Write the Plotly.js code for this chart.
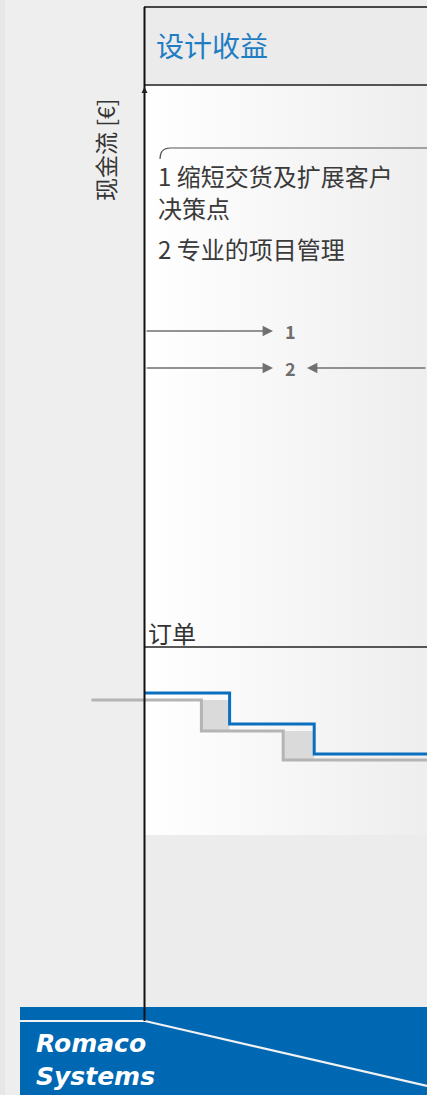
<!DOCTYPE html>
<html>
<head>
<meta charset="utf-8">
<script src="https://cdn.plot.ly/plotly-3.0.1.min.js"></script>
<style>html,body{margin:0;padding:0;background:#ececec;}#chart{width:427px;height:1095px;}</style>
</head>
<body>
<div id="chart"></div>
<script>
// ---- data (schematic: time units vs. cash-flow units) ----
const titleText = "设计收益";
const yLabel = "现金流 [€]";
const noteLines = ["1 缩短交货及扩展客户", "决策点", "2 专业的项目管理"];
const markerLabels = ["1", "2"];
const orderLabel = "订单";
const logoLines = ["Romaco", "Systems"];

const projectedTime = [-1.9, 2, 4.9, 10];
const projectedCash = [-0.7, -3.8, -6.7, -6.7];
const designedTime  = [0, 3, 6, 10];
const designedCash  = [0, -3.1, -6.1, -6.1];

// ---- helpers (layout only) ----
const W = 427, H = 1095;
const px = p => p / W;
const py = p => 1 - p / H;
const X0 = 145, PXU = 28.2, Y0 = 693, PYU = 10;
const xr = [-X0 / PXU, (W - X0) / PXU];
const yr = [(Y0 - H) / PYU, Y0 / PYU];
const dx = p => (p - X0) / PXU;
const dy = p => (Y0 - p) / PYU;

const traces = [];
// gradient panel
traces.push({
  x: [dx(145), dx(427), dx(427), dx(145), dx(145)],
  y: [dy(86), dy(86), dy(835), dy(835), dy(86)],
  mode: 'lines', fill: 'toself', line: {width: 0},
  fillgradient: {type: 'horizontal', colorscale: [[0, '#ffffff'], [1, '#eeeeee']]},
  hoverinfo: 'skip', showlegend: false
});
// gap boxes between projected and designed steps
for (let i = 1; i < projectedTime.length - 1; i++) {
  const a = projectedTime[i], b = designedTime[i];
  const top = projectedCash[i - 1], bot = projectedCash[i];
  traces.push({
    x: [a, b, b, a, a], y: [top, top, bot, bot, top],
    mode: 'lines', fill: 'toself', fillcolor: '#dadada', line: {width: 0},
    hoverinfo: 'skip', showlegend: false
  });
}
traces.push({
  x: projectedTime, y: projectedCash, mode: 'lines',
  line: {shape: 'hv', color: '#b4b4b4', width: 3}, hoverinfo: 'skip', showlegend: false
});
traces.push({
  x: designedTime, y: designedCash, mode: 'lines',
  line: {shape: 'hv', color: '#0a6fbe', width: 3}, hoverinfo: 'skip', showlegend: false
});

const shapes = [
  {type: 'rect', xref: 'paper', yref: 'paper', x0: 0, x1: px(5), y0: 0, y1: 1, fillcolor: '#e7e7e7', line: {width: 0}, layer: 'below'},
  {type: 'rect', xref: 'paper', yref: 'paper', x0: px(5), x1: px(144), y0: 0, y1: 1, fillcolor: '#eeeeee', line: {width: 0}, layer: 'below'},
  {type: 'rect', xref: 'paper', yref: 'paper', x0: px(144), x1: 1, y0: py(85), y1: py(7), fillcolor: '#ebebeb', line: {width: 0}, layer: 'below'},
  {type: 'line', xref: 'paper', yref: 'paper', x0: px(144), x1: 1, y0: py(7), y1: py(7), line: {color: '#111', width: 1.6}},
  {type: 'line', xref: 'paper', yref: 'paper', x0: px(144), x1: 1, y0: py(85), y1: py(85), line: {color: '#222', width: 1.6}},
  {type: 'line', xref: 'paper', yref: 'paper', x0: px(145), x1: 1, y0: py(647), y1: py(647), line: {color: '#222', width: 1.5}},
  {type: 'path', xref: 'paper', yref: 'paper',
   path: `M ${px(160)} ${py(159)} Q ${px(160)} ${py(148)} ${px(170)} ${py(148)} L ${px(427)} ${py(148)}`,
   line: {color: '#555', width: 1.2}},
  {type: 'rect', xref: 'paper', yref: 'paper', x0: px(20), x1: 1, y0: 0, y1: py(1007), fillcolor: '#0067b3', line: {width: 0}},
  {type: 'path', xref: 'paper', yref: 'paper',
   path: `M ${px(20)} ${py(1021)} L ${px(145)} ${py(1021)} L ${px(427)} ${py(1086)}`,
   line: {color: '#f2f2f2', width: 2.2}},
  {type: 'line', xref: 'paper', yref: 'paper', x0: px(144.5), x1: px(144.5), y0: py(7), y1: py(1021), line: {color: '#111', width: 2}}
];

const CJK = '"Noto Sans CJK SC", sans-serif';
const txt = (t, x, y, size, color, extra) => Object.assign({
  text: t, xref: 'paper', yref: 'paper', x: px(x), y: py(y), xanchor: 'left', yanchor: 'middle',
  showarrow: false, font: {family: CJK, size: size, color: color}
}, extra || {});

const arrow = (tipX, tipY, tailDx, color) => ({
  xref: 'paper', yref: 'paper', x: px(tipX), y: py(tipY), ax: tailDx, ay: 0, text: '',
  showarrow: true, arrowhead: 2, arrowsize: 1.3, arrowwidth: 1.6, arrowcolor: color, standoff: 0
});

const annotations = [
  txt(titleText, 154, 45, 28, '#1f7dc4'),
  txt(noteLines[0], 156, 176, 24, '#3a3a3a'),
  txt(noteLines[1], 156, 207, 24, '#3a3a3a'),
  txt(noteLines[2], 156, 248, 24, '#3a3a3a'),
  txt(orderLabel, 146, 632, 24, '#333'),
  txt(yLabel, 105, 150, 23, '#333', {xanchor: 'center', textangle: -90}),
  arrow(273, 331, 145 - 273, '#707070'),
  arrow(273, 368, 145 - 273, '#707070'),
  arrow(307, 368, 130, '#707070'),
  txt('<b>' + markerLabels[0] + '</b>', 290, 331, 18, '#6e6e6e', {xanchor: 'center'}),
  txt('<b>' + markerLabels[1] + '</b>', 290, 368, 18, '#6e6e6e', {xanchor: 'center'}),
  {xref: 'paper', yref: 'paper', x: px(144.5), y: py(87), ax: 0, ay: 6, text: '', showarrow: true,
   arrowhead: 2, arrowsize: 0.8, arrowwidth: 1.5, arrowcolor: '#222', standoff: 0},
  {text: '<b><i>' + logoLines.join('<br>') + '</i></b>', xref: 'paper', yref: 'paper',
   x: px(34), y: py(1060), xanchor: 'left', yanchor: 'middle', align: 'left', showarrow: false,
   font: {family: '"DejaVu Sans", sans-serif', size: 25, color: '#ffffff'}}
];

const layout = {
  width: W, height: H, margin: {l: 0, r: 0, t: 0, b: 0},
  paper_bgcolor: '#ececec', plot_bgcolor: 'rgba(0,0,0,0)',
  xaxis: {range: xr, visible: false, fixedrange: true},
  yaxis: {range: yr, visible: false, fixedrange: true},
  shapes: shapes, annotations: annotations, showlegend: false
};
Plotly.newPlot('chart', traces, layout, {staticPlot: true, displayModeBar: false});
</script>
</body>
</html>
